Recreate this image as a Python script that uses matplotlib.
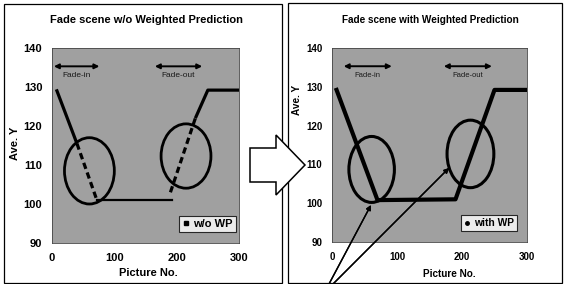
import matplotlib.pyplot as plt
from matplotlib.patches import Ellipse, Rectangle, Polygon
from matplotlib.lines import Line2D

plt.rcParams['font.family'] = ['Liberation Sans', 'DejaVu Sans']
plt.rcParams['font.weight'] = 'bold'

W, H = 564, 284

# ---- data ----
x_ticks = [0, 100, 200, 300]
y_ticks = [90, 100, 110, 120, 130, 140]

# w/o WP: solid parts and scattered (dashed) parts inside the ellipses
wo_in_solid_x = [7, 40]
wo_in_solid_y = [129.4, 115.5]
wo_in_scatter_x = [40, 72]
wo_in_scatter_y = [115.5, 101.0]
wo_flat_x = [72, 193]
wo_flat_y = [101.0, 101.0]
wo_out_scatter_x = [190, 230]
wo_out_scatter_y = [103.0, 122.0]
wo_out_solid_x = [230, 250, 300]
wo_out_solid_y = [122.0, 129.2, 129.2]

# with WP
wp_x = [7, 70, 190, 250, 300]
wp_y = [129.2, 100.8, 101.0, 129.2, 129.2]

# ellipses: (cx, cy, width, height)
wo_ellipses = [(60, 108.5, 80, 17), (215, 112.3, 80, 16.5)]
wp_ellipses = [(61, 108.7, 70, 17), (213, 112.7, 72, 17.4)]

# fade arrows: (x0, x1, label)
wo_fades = [(3, 76, 'Fade-in'), (165, 241, 'Fade-out')]
wp_fades = [(18, 92, 'Fade-in'), (172, 246, 'Fade-out')]

BG = '#a0a0a0'


def fx(x):
    return x / W


def fy(y):
    return 1 - y / H


fig = plt.figure(figsize=(W / 100, H / 100), dpi=100)
fig.patch.set_facecolor('white')

# panel frames
fig.add_artist(Rectangle((fx(4), fy(283)), fx(278), 279 / H, transform=fig.transFigure,
                         fill=False, ec='black', lw=0.9))
fig.add_artist(Rectangle((fx(288), fy(283)), fx(274), 280 / H, transform=fig.transFigure,
                         fill=False, ec='black', lw=0.9))


def setup(ax, fs):
    ax.set_facecolor(BG)
    ax.set_xlim(0, 300)
    ax.set_ylim(90, 140)
    ax.set_xticks(x_ticks)
    ax.set_yticks(y_ticks)
    ax.tick_params(length=0, labelsize=fs, pad=7)
    for s in ax.spines.values():
        s.set_linewidth(0.6)
        s.set_color('#444444')


def fades(ax, items, fs):
    for x0, x1, lab in items:
        ax.annotate('', xy=(x0, 135.3), xytext=(x1, 135.3),
                    arrowprops=dict(arrowstyle='<|-|>', color='black', lw=1.4,
                                    mutation_scale=7, shrinkA=0, shrinkB=0))
        ax.text((x0 + x1) / 2, 132.9, lab, ha='center', va='center',
                fontsize=fs, fontweight='normal', color='#1a1a1a')


# ---- left panel ----
ax1 = fig.add_axes([fx(52), fy(243), fx(187), 195 / H])
setup(ax1, 8)
ax1.plot(wo_in_solid_x, wo_in_solid_y, color='black', lw=2.3, solid_capstyle='butt')
ax1.plot(wo_in_scatter_x, wo_in_scatter_y, color='black', lw=2.3, ls=(0, (2, 1.2)))
ax1.plot(wo_flat_x, wo_flat_y, color='black', lw=1.6)
ax1.plot(wo_out_scatter_x, wo_out_scatter_y, color='black', lw=2.3, ls=(0, (2, 1.2)))
ax1.plot(wo_out_solid_x, wo_out_solid_y, color='black', lw=2.3, solid_capstyle='butt')
for cx, cy, w, h in wo_ellipses:
    ax1.add_patch(Ellipse((cx, cy), w, h, fill=False, ec='black', lw=2.0))
fades(ax1, wo_fades, 6)
h1 = Line2D([], [], marker='s', ls='none', color='black', markersize=3)
leg1 = ax1.legend([h1], ['w/o WP'], loc='lower right', bbox_to_anchor=(0.985, 0.055),
                  fontsize=8, frameon=True, fancybox=False, handlelength=0.6,
                  handletextpad=0.4, borderpad=0.3, borderaxespad=0)
leg1.get_frame().set_edgecolor('black')
leg1.get_frame().set_linewidth(0.8)

fig.text(fx(146), fy(20), 'Fade scene w/o Weighted Prediction', ha='center', va='center',
         fontsize=8, fontweight='bold')
fig.text(fx(15), fy(143), 'Ave. Y', ha='center', va='center', rotation=90,
         fontsize=8, fontweight='bold')
fig.text(fx(148), fy(273), 'Picture No.', ha='center', va='center',
         fontsize=8, fontweight='bold')

# ---- right panel ----
ax2 = fig.add_axes([fx(332), fy(242), fx(195), 194 / H])
setup(ax2, 7)
ax2.plot(wp_x, wp_y, color='black', lw=3.0)
for cx, cy, w, h in wp_ellipses:
    ax2.add_patch(Ellipse((cx, cy), w, h, fill=False, ec='black', lw=2.2))
fades(ax2, wp_fades, 5.5)
h2 = Line2D([], [], marker='o', ls='none', color='black', markersize=2.5)
leg2 = ax2.legend([h2], ['with WP'], loc='lower right', bbox_to_anchor=(0.95, 0.055),
                  fontsize=7.4, frameon=True, fancybox=False, handlelength=0.6,
                  handletextpad=0.4, borderpad=0.3, borderaxespad=0)
leg2.get_frame().set_edgecolor('black')
leg2.get_frame().set_linewidth(0.8)

fig.text(fx(430), fy(20), 'Fade scene with Weighted Prediction', ha='center', va='center',
         fontsize=7.2, fontweight='bold')
fig.text(fx(297), fy(100), 'Ave. Y', ha='center', va='center', rotation=90,
         fontsize=7.2, fontweight='bold')
fig.text(fx(449), fy(274), 'Picture No.', ha='center', va='center',
         fontsize=7.2, fontweight='bold')

# pointer arrows at the bottom of the right panel
for (x0, y0), (x1, y1) in [((329, 284), (371, 205)), ((333, 284), (449, 168))]:
    fig.add_artist(plt.annotate('', xy=(fx(x1), fy(y1)), xytext=(fx(x0), fy(y0)),
                                xycoords='figure fraction', textcoords='figure fraction',
                                arrowprops=dict(arrowstyle='-|>', color='black', lw=1.0,
                                                mutation_scale=7, shrinkA=0, shrinkB=0)))

# big hollow arrow between panels
arrow_pts = [(250, 148), (276, 148), (276, 135), (305, 165), (276, 195), (276, 182), (250, 182)]
fig.add_artist(Polygon([(fx(x), fy(y)) for x, y in arrow_pts], closed=True,
                       transform=fig.transFigure, fc='white', ec='black', lw=1.1, zorder=10))

fig.savefig('out.png', dpi=100)
